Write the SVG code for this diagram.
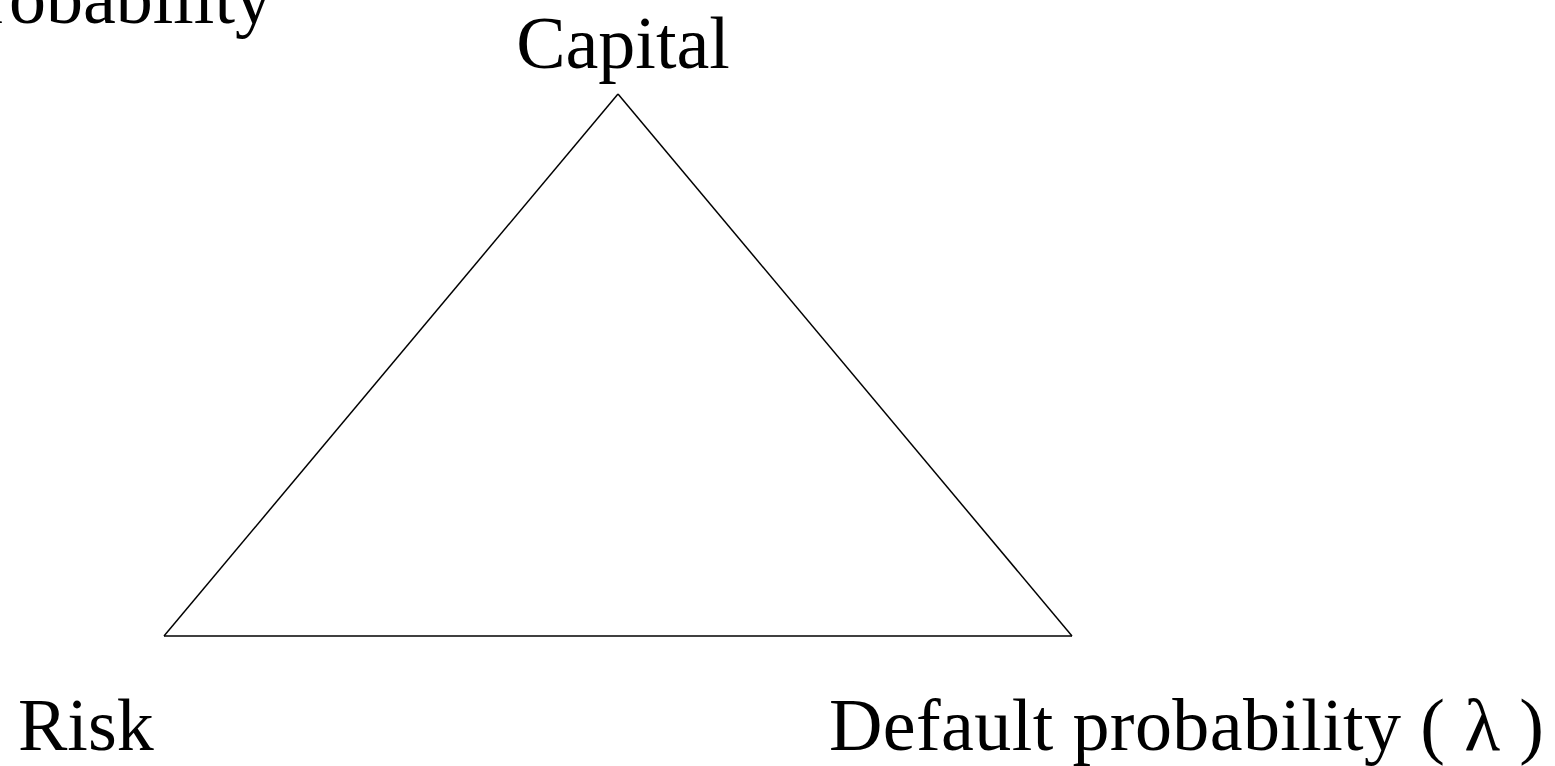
<svg xmlns="http://www.w3.org/2000/svg" width="1555" height="766" viewBox="0 0 1555 766">
<style>
text{font-family:"Liberation Serif","Times New Roman",serif;font-size:74px;fill:#000}
.edge{stroke:#000;stroke-width:1.5;fill:none}
</style>
<rect width="1555" height="766" fill="#fff"/>
<g id="connectors">
<line class="edge" x1="618" y1="94" x2="164" y2="636"/>
<line class="edge" x1="618" y1="94" x2="1072" y2="636"/>
<line class="edge" x1="164" y1="636" x2="1072" y2="636"/>
</g>
<g id="top-label"><text x="272" y="23" text-anchor="end">Default probability</text></g>
<g id="capital"><text x="623" y="68" text-anchor="middle">Capital</text></g>
<g id="risk"><text x="18" y="750">Risk</text></g>
<g id="default"><text x="829" y="750" textLength="715" lengthAdjust="spacing">Default probability ( λ )</text></g>
</svg>
